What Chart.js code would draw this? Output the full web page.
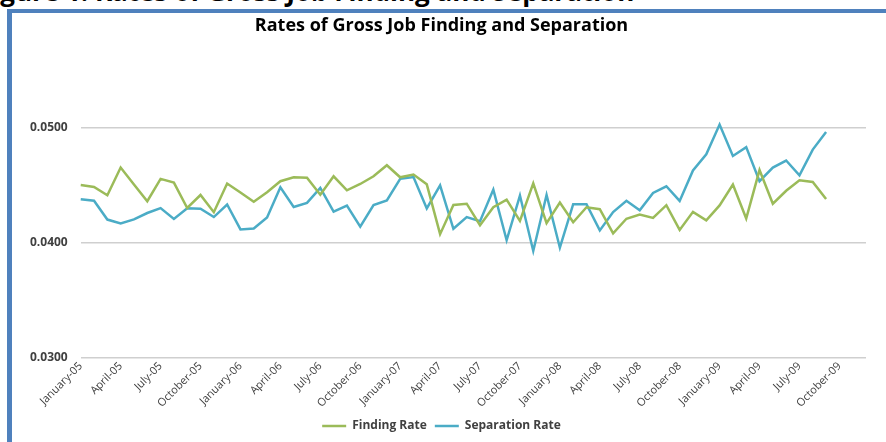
<!DOCTYPE html>
<html>
<head>
<meta charset="utf-8">
<script src="https://cdn.jsdelivr.net/npm/chart.js@4.4.0/dist/chart.umd.min.js"></script>
<style>
  html, body { margin:0; padding:0; background:#fff; width:886px; height:442px; overflow:hidden; position:relative; }
  .caption { position:absolute; left:-22px; top:-27px; line-height:26px; white-space:nowrap;
             font:700 26px 'Open Sans', sans-serif; color:#000; }
  .frame { position:absolute; left:7px; top:9px; width:900px; height:450px;
           border-left:5px solid #4f81bd; border-top:4px solid #4f81bd; background:#fff; }
  #wrap { position:absolute; left:12px; top:13px; width:874px; height:429px; }
</style>
</head>
<body>
<div class="caption">Figure 1: Rates of Gross Job Finding and Separation</div>
<div class="frame"></div>
<div id="wrap"><canvas id="chart"></canvas></div>
<script>
/* ── Data ─────────────────────────────────────────────────────── */
const MONTHS = ['January','February','March','April','May','June','July',
                'August','September','October','November','December'];
const YEARS  = ['05','06','07','08','09'];

// monthly rates, Jan-05 .. Sep-09
const findingRate = [
  0.04504,0.04487,0.04415,0.04656,0.04508,0.04363,0.04557,0.04525,0.04304,0.04417,0.04267,0.04517,
  0.04438,0.04358,0.04441,0.04537,0.04571,0.04567,0.04419,0.04580,0.04458,0.04513,0.04580,0.04676,
  0.04571,0.04595,0.04510,0.04076,0.04330,0.04341,0.04154,0.04310,0.04377,0.04191,0.04519,0.04171,
  0.04352,0.04180,0.04310,0.04293,0.04083,0.04210,0.04247,0.04217,0.04328,0.04113,0.04270,0.04196,
  0.04326,0.04508,0.04212,0.04634,0.04341,0.04454,0.04545,0.04530,0.04382
];
const separationRate = [
  0.04380,0.04367,0.04203,0.04170,0.04204,0.04260,0.04303,0.04209,0.04302,0.04297,0.04225,0.04334,
  0.04117,0.04125,0.04222,0.04484,0.04313,0.04348,0.04478,0.04273,0.04325,0.04141,0.04330,0.04369,
  0.04558,0.04573,0.04300,0.04500,0.04123,0.04225,0.04189,0.04464,0.04023,0.04412,0.03930,0.04417,
  0.03958,0.04337,0.04337,0.04109,0.04269,0.04366,0.04283,0.04435,0.04493,0.04365,0.04630,0.04771,
  0.05030,0.04757,0.04834,0.04537,0.04656,0.04717,0.04589,0.04812,0.04965
];

const Y_MIN = 0.03, Y_MAX = 0.055, Y_STEP = 0.01;

const labels = [];
YEARS.forEach(y => MONTHS.forEach(m => labels.push(m + '-' + y)));

/* ── Chart ────────────────────────────────────────────────────── */
const GREEN = '#9bbb59', BLUE = '#4bacc6';
const FONT  = "'Open Sans', sans-serif";

new Chart(document.getElementById('chart'), {
  type: 'line',
  data: {
    labels,
    datasets: [
      { label:'Finding Rate', data:findingRate, borderColor:GREEN, backgroundColor:GREEN,
        borderWidth:2.5, pointRadius:0, tension:0, fill:false },
      { label:'Separation Rate', data:separationRate, borderColor:BLUE, backgroundColor:BLUE,
        borderWidth:2.5, pointRadius:0, tension:0, fill:false }
    ]
  },
  options: {
    responsive:true, maintainAspectRatio:false, animation:false,
    layout: { padding:{ left:5, right:20, top:2, bottom:0 } },
    scales: {
      x: {
        offset:false,
        grid:{ display:false, drawTicks:false },
        border:{ display:false },
        ticks:{
          autoSkip:false, minRotation:45, maxRotation:45, padding:2,
          color:'#404040', font:{ family:FONT, size:11 },
          callback:(v, i) => i % 3 === 0 ? labels[i] : ''
        }
      },
      y: {
        min:Y_MIN, max:Y_MAX,
        grid:{ color:ctx => ctx.tick.value > 0.0505 ? 'transparent' : '#cfcfcf', lineWidth:1.5, drawTicks:false },
        border:{ display:false },
        ticks:{
          stepSize:Y_STEP, padding:13, color:'#404040',
          font:{ family:FONT, size:12, weight:'bold' },
          callback:v => v > 0.0505 ? '' : v.toFixed(4)
        }
      }
    },
    plugins: {
      title: { display:true, text:'Rates of Gross Job Finding and Separation',
               color:'#000', font:{ family:FONT, size:18, weight:'bold' },
               padding:{ top:0, bottom:34 } },
      legend: { position:'bottom',
                labels:{ usePointStyle:true, pointStyle:'line', pointStyleWidth:24,
                         color:'#404040', font:{ family:FONT, size:12, weight:'bold' }, padding:8 } },
      tooltip: { enabled:false }
    }
  }
});
</script>
</body>
</html>
